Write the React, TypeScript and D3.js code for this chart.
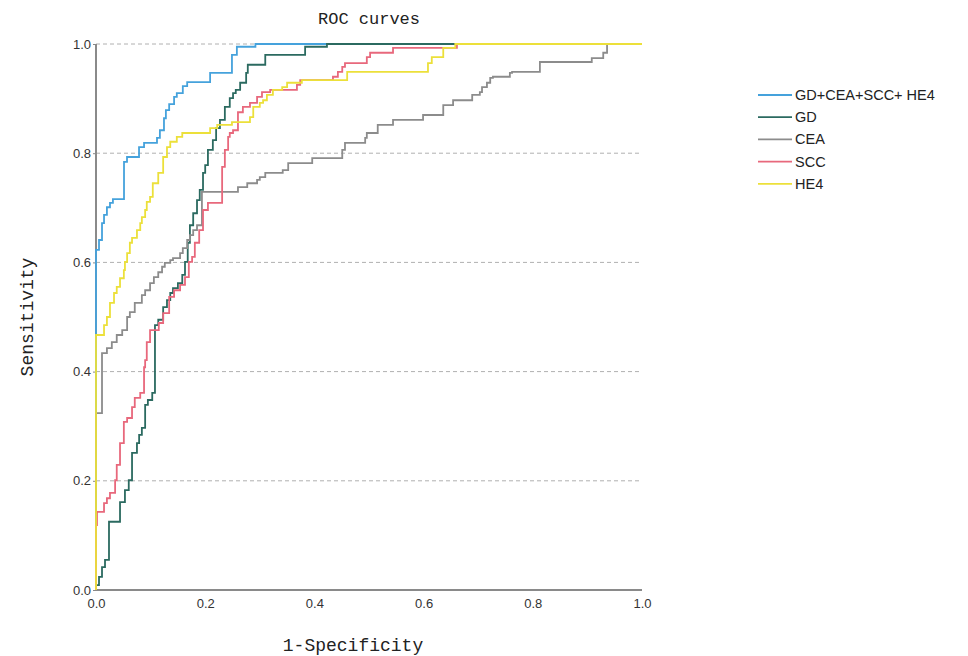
import React, { useEffect, useRef } from "react";
import * as d3 from "d3";

// ROC points as [1-specificity, sensitivity]; curve steps up at each x
const combinedPts = [
  [0, 0], [0.0055, 0.623], [0.011, 0.641], [0.0147, 0.672], [0.02, 0.687], [0.0256, 0.701],
  [0.031, 0.709], [0.0513, 0.716], [0.0568, 0.784], [0.0788, 0.793], [0.088, 0.811],
  [0.1117, 0.819], [0.117, 0.828], [0.1245, 0.842], [0.128, 0.864], [0.134, 0.879],
  [0.143, 0.89], [0.148, 0.903], [0.159, 0.91], [0.167, 0.923], [0.209, 0.93], [0.249, 0.947],
  [0.258, 0.98], [0.292, 0.995], [1, 1],
];

const gdPts = [
  [0, 0], [0.0055, 0.009], [0.011, 0.024], [0.0165, 0.042], [0.0238, 0.055], [0.044, 0.125],
  [0.053, 0.161], [0.06, 0.183], [0.066, 0.201], [0.075, 0.251], [0.079, 0.269], [0.084, 0.284],
  [0.09, 0.297], [0.095, 0.339], [0.103, 0.348], [0.108, 0.361], [0.114, 0.485], [0.123, 0.495],
  [0.13, 0.518], [0.136, 0.531], [0.141, 0.544], [0.15, 0.553], [0.158, 0.562], [0.163, 0.577],
  [0.168, 0.601], [0.172, 0.636], [0.178, 0.668], [0.185, 0.69], [0.19, 0.714], [0.196, 0.733],
  [0.2, 0.764], [0.205, 0.778], [0.214, 0.806], [0.22, 0.824], [0.227, 0.846], [0.236, 0.861],
  [0.245, 0.885], [0.251, 0.901], [0.256, 0.91], [0.264, 0.916], [0.275, 0.929], [0.278, 0.947],
  [0.31, 0.962], [0.383, 0.98], [0.423, 0.995], [1, 1],
];

const ceaPts = [
  [0, 0], [0.011, 0.324], [0.02, 0.434], [0.029, 0.443], [0.038, 0.454], [0.048, 0.467],
  [0.057, 0.476], [0.062, 0.5], [0.071, 0.509], [0.084, 0.526], [0.09, 0.54], [0.099, 0.549],
  [0.106, 0.562], [0.114, 0.573], [0.121, 0.582], [0.126, 0.592], [0.136, 0.599], [0.141, 0.604],
  [0.154, 0.608], [0.159, 0.617], [0.167, 0.626], [0.172, 0.641], [0.178, 0.65], [0.185, 0.659],
  [0.194, 0.668], [0.26, 0.729], [0.277, 0.738], [0.295, 0.745], [0.3, 0.751], [0.31, 0.756],
  [0.342, 0.764], [0.352, 0.769], [0.396, 0.782], [0.451, 0.791], [0.456, 0.806], [0.493, 0.819],
  [0.496, 0.828], [0.516, 0.837], [0.544, 0.852], [0.599, 0.861], [0.636, 0.87], [0.654, 0.888],
  [0.689, 0.897], [0.703, 0.907], [0.707, 0.912], [0.716, 0.921], [0.722, 0.929], [0.727, 0.938],
  [0.758, 0.94], [0.762, 0.947], [0.813, 0.949], [0.908, 0.967], [0.929, 0.974], [0.936, 0.984],
  [1, 1],
];

const sccPts = [
  [0, 0], [0.0018, 0.119], [0.0147, 0.143], [0.02, 0.159], [0.0256, 0.168], [0.035, 0.178],
  [0.038, 0.201], [0.044, 0.229], [0.051, 0.269], [0.057, 0.308], [0.066, 0.315], [0.071, 0.335],
  [0.081, 0.352], [0.088, 0.361], [0.09, 0.408], [0.093, 0.421], [0.099, 0.454], [0.115, 0.476],
  [0.123, 0.489], [0.134, 0.507], [0.143, 0.537], [0.154, 0.549], [0.163, 0.559], [0.17, 0.573],
  [0.176, 0.601], [0.181, 0.61], [0.189, 0.636], [0.196, 0.659], [0.205, 0.696], [0.231, 0.709],
  [0.236, 0.775], [0.242, 0.806], [0.245, 0.83], [0.251, 0.837], [0.26, 0.842], [0.269, 0.875],
  [0.282, 0.885], [0.295, 0.892], [0.304, 0.903], [0.319, 0.912], [0.368, 0.916], [0.374, 0.925],
  [0.434, 0.934], [0.443, 0.94], [0.451, 0.949], [0.456, 0.958], [0.496, 0.965], [0.502, 0.976],
  [0.544, 0.984], [0.661, 0.993], [1, 1],
];

const he4Pts = [
  [0, 0], [0.0147, 0.467], [0.02, 0.485], [0.0256, 0.5], [0.033, 0.526], [0.038, 0.544],
  [0.044, 0.555], [0.051, 0.571], [0.053, 0.586], [0.057, 0.601], [0.062, 0.617], [0.066, 0.636],
  [0.075, 0.645], [0.081, 0.659], [0.084, 0.672], [0.09, 0.683], [0.093, 0.696], [0.099, 0.711],
  [0.104, 0.72], [0.114, 0.745], [0.123, 0.764], [0.13, 0.793], [0.136, 0.811], [0.148, 0.821],
  [0.158, 0.83], [0.209, 0.837], [0.222, 0.846], [0.249, 0.852], [0.282, 0.857], [0.288, 0.866],
  [0.3, 0.885], [0.306, 0.892], [0.313, 0.897], [0.324, 0.907], [0.341, 0.916], [0.35, 0.921],
  [0.377, 0.929], [0.46, 0.934], [0.608, 0.949], [0.615, 0.965], [0.636, 0.976], [0.658, 0.993],
  [1, 1],
];

const seriesNames = ["GD+CEA+SCC+ HE4", "GD", "CEA", "SCC", "HE4"];
const seriesColors = ["#45a2dc", "#2b6a60", "#8c8c8c", "#e8687c", "#ece03a"];
const seriesPts = [combinedPts, gdPts, ceaPts, sccPts, he4Pts];
const tickValues = [0, 0.2, 0.4, 0.6, 0.8, 1.0];

const App = () => {
  const svgRef = useRef(null);
  const width = 968;
  const height = 656;

  useEffect(() => {
    const margin = { top: 44, left: 96 };
    const innerWidth = 546;
    const innerHeight = 546;

    const svg = d3.select(svgRef.current);
    svg.selectAll("*").remove();

    const xScale = d3.scaleLinear().domain([0, 1]).range([0, innerWidth]);
    const yScale = d3.scaleLinear().domain([0, 1]).range([innerHeight, 0]);

    const g = svg
      .append("g")
      .attr("transform", `translate(${margin.left},${margin.top})`);

    // dashed grid
    g.selectAll(".grid")
      .data(tickValues.slice(1))
      .enter()
      .append("line")
      .attr("x1", 0)
      .attr("x2", innerWidth)
      .attr("y1", (d) => yScale(d))
      .attr("y2", (d) => yScale(d))
      .attr("stroke", "#b0b0b0")
      .attr("stroke-width", 1)
      .attr("stroke-dasharray", "4,3");

    const yAxis = d3
      .axisLeft(yScale)
      .tickValues(tickValues)
      .tickFormat(d3.format(".1f"))
      .tickSize(3)
      .tickPadding(2);
    const yAxisG = g.append("g").call(yAxis);
    yAxisG.select(".domain").remove();
    yAxisG.selectAll("line").attr("stroke", "#888");
    yAxisG
      .selectAll("text")
      .attr("font-family", "Liberation Sans, Arial, sans-serif")
      .attr("font-size", 13)
      .attr("fill", "#333");

    const xAxis = d3
      .axisBottom(xScale)
      .tickValues(tickValues)
      .tickFormat(d3.format(".1f"))
      .tickSize(0)
      .tickPadding(9);
    const xAxisG = g
      .append("g")
      .attr("transform", `translate(0,${innerHeight})`)
      .call(xAxis);
    xAxisG.select(".domain").remove();
    xAxisG
      .selectAll("text")
      .attr("font-family", "Liberation Sans, Arial, sans-serif")
      .attr("font-size", 13)
      .attr("fill", "#333");

    // axis lines
    g.append("line")
      .attr("x1", 0).attr("x2", 0)
      .attr("y1", 0).attr("y2", innerHeight)
      .attr("stroke", "#8a8a8a").attr("stroke-width", 2);
    g.append("line")
      .attr("x1", 0).attr("x2", innerWidth)
      .attr("y1", innerHeight).attr("y2", innerHeight)
      .attr("stroke", "#8a8a8a").attr("stroke-width", 2);

    const line = d3
      .line()
      .x((d) => xScale(d[0]))
      .y((d) => yScale(d[1]))
      .curve(d3.curveStepBefore);

    seriesPts.forEach((pts, i) => {
      g.append("path")
        .datum(pts)
        .attr("d", line)
        .attr("fill", "none")
        .attr("stroke", seriesColors[i])
        .attr("stroke-width", 1.8);
    });

    // titles
    const monoFont = "Liberation Mono, DejaVu Sans Mono, monospace";
    svg.append("text")
      .attr("x", 369)
      .attr("y", 24)
      .attr("text-anchor", "middle")
      .attr("font-family", monoFont)
      .attr("font-size", 17)
      .attr("fill", "#222")
      .text("ROC curves");

    svg.append("text")
      .attr("x", 353)
      .attr("y", 651)
      .attr("text-anchor", "middle")
      .attr("font-family", monoFont)
      .attr("font-size", 18)
      .attr("fill", "#222")
      .text("1-Specificity");

    svg.append("text")
      .attr("transform", "translate(33,317) rotate(-90)")
      .attr("text-anchor", "middle")
      .attr("font-family", monoFont)
      .attr("font-size", 18)
      .attr("fill", "#222")
      .text("Sensitivity");

    // legend
    const legend = svg
      .append("g")
      .attr("transform", "translate(758,95)");
    const items = legend
      .selectAll("g")
      .data(seriesNames)
      .enter()
      .append("g")
      .attr("transform", (d, i) => `translate(0,${i * 22.2})`);
    items
      .append("line")
      .attr("x1", 0).attr("x2", 34)
      .attr("y1", 0).attr("y2", 0)
      .attr("stroke", (d, i) => seriesColors[i])
      .attr("stroke-width", 1.8);
    items
      .append("text")
      .attr("x", 37)
      .attr("y", 5)
      .attr("font-family", "Liberation Sans, Arial, sans-serif")
      .attr("font-size", 14.5)
      .attr("fill", "#222")
      .text((d) => d);
  }, []);

  return (
    <svg
      ref={svgRef}
      width={width}
      height={height}
      style={{ position: "absolute", left: 0, top: 0, background: "#fff" }}
    ></svg>
  );
};

export default App;
